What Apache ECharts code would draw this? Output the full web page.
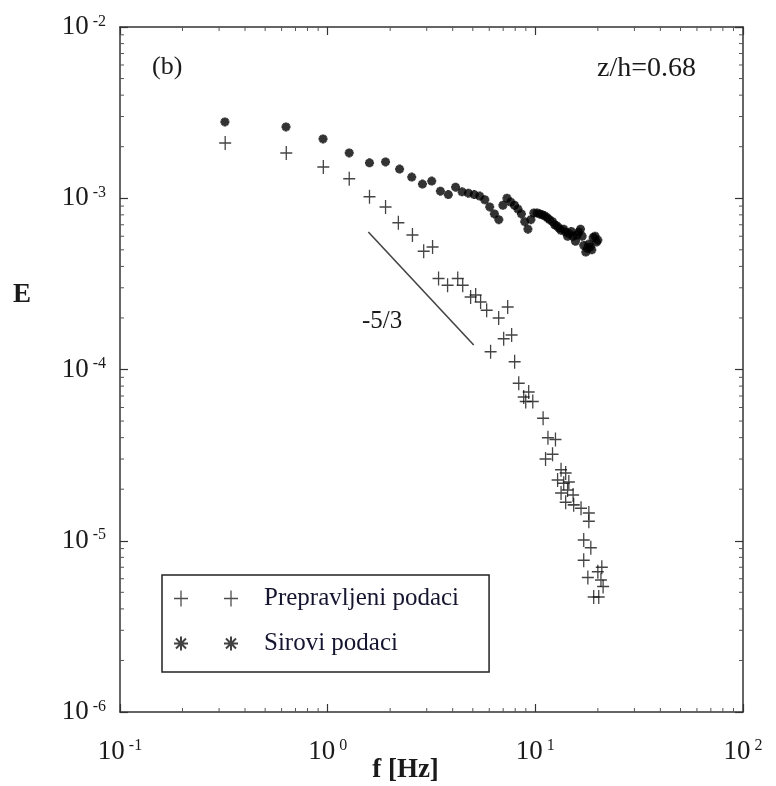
<!DOCTYPE html>
<html>
<head>
<meta charset="utf-8">
<script src="https://cdn.jsdelivr.net/npm/echarts@6/dist/echarts.min.js"></script>
<style>
  html, body { margin: 0; padding: 0; background: #fff; }
  #chart { width: 776px; height: 786px; }
</style>
</head>
<body>
<div id="chart"></div>
<script>
// sirovi podaci (zvjezdice)
const rawFreq = [0.32, 0.63, 0.95, 1.27, 1.59, 1.9, 2.22, 2.54, 2.86, 3.17,
  3.49, 3.81, 4.13, 4.44, 4.76, 5.08, 5.4, 5.71, 6.03, 6.35,
  6.67, 6.98, 7.3, 7.62, 7.94, 8.25, 8.57, 8.89, 9.21, 9.52,
  9.84, 10.2, 10.5, 10.8, 11.1, 11.4, 11.7, 12.1, 12.4, 12.7,
  13.0, 13.3, 13.7, 14.0, 14.3, 14.6, 14.9, 15.2, 15.6, 15.9,
  16.2, 16.5, 16.8, 17.1, 17.5, 17.8, 18.1, 18.4, 18.7, 19.0,
  19.4, 19.7, 20.0]
const rawE = [2.79e-3, 2.61e-3, 2.22e-3, 1.84e-3, 1.61e-3, 1.63e-3, 1.48e-3, 1.33e-3, 1.21e-3, 1.26e-3,
  1.10e-3, 1.05e-3, 1.16e-3, 1.09e-3, 1.07e-3, 1.05e-3, 1.03e-3, 9.8e-4, 8.9e-4, 8.1e-4,
  7.5e-4, 9.1e-4, 1.0e-3, 9.5e-4, 9.1e-4, 8.65e-4, 8.1e-4, 7.3e-4, 6.6e-4, 7.5e-4,
  8.2e-4, 8.2e-4, 8.1e-4, 8.0e-4, 7.9e-4, 7.7e-4, 7.5e-4, 7.3e-4, 7.0e-4, 6.9e-4,
  6.7e-4, 6.5e-4, 6.6e-4, 6.35e-4, 6.0e-4, 6.2e-4, 6.4e-4, 6.0e-4, 5.6e-4, 6.1e-4,
  6.35e-4, 6.6e-4, 6.0e-4, 5.3e-4, 4.85e-4, 5.1e-4, 5.4e-4, 5.2e-4, 5.0e-4, 5.9e-4,
  6.0e-4, 5.55e-4, 5.7e-4]

// prepravljeni podaci (plusevi)
const corrFreq = [0.321, 0.632, 0.953, 1.27, 1.59, 1.9, 2.19, 2.56, 2.9, 3.2,
  3.42, 3.78, 4.23, 4.47, 4.88, 5.16, 5.45, 5.83, 6.09, 6.66,
  7.04, 7.36, 7.69, 7.95, 8.32, 8.79, 8.99, 9.29, 9.72, 10.9,
  11.2, 11.5, 12.1, 12.5, 13.3, 12.8, 13.3, 13.7, 14.0, 14.0,
  14.3, 14.5, 15.2, 15.3, 16.6, 18.1, 18.1, 17.1, 18.5, 17.1,
  17.9, 20.0, 20.9, 20.7, 21.2, 19.1, 20.2]
const corrE = [2.10e-3, 1.84e-3, 1.52e-3, 1.30e-3, 1.02e-3, 8.9e-4, 7.2e-4, 6.1e-4, 4.9e-4, 5.2e-4,
  3.4e-4, 3.1e-4, 3.4e-4, 3.1e-4, 2.65e-4, 2.72e-4, 2.48e-4, 2.22e-4, 1.27e-4, 2.0e-4,
  1.51e-4, 2.32e-4, 1.59e-4, 1.11e-4, 8.3e-5, 6.9e-5, 6.5e-5, 7.4e-5, 6.5e-5, 5.2e-5,
  3.0e-5, 4.0e-5, 3.2e-5, 3.9e-5, 2.6e-5, 2.26e-5, 1.9e-5, 2.17e-5, 2.49e-5, 1.68e-5,
  1.98e-5, 2.2e-5, 1.85e-5, 1.62e-5, 1.55e-5, 1.45e-5, 1.3e-5, 1.01e-5, 9.1e-6, 7.7e-6,
  6.1e-6, 6.6e-6, 7.0e-6, 5.9e-6, 5.4e-6, 4.7e-6, 4.7e-6]

// linija nagiba -5/3
const slopeFreq = [1.57, 5.05]
const slopeE = [6.35e-4, 1.39e-4]

// mali podioci
const mantissas = [2, 3, 4, 5, 6, 7, 8, 9]
const xDecades = [0.1, 1, 10]
const yDecades = [1e-6, 1e-5, 1e-4, 1e-3]

const names = ['Prepravljeni podaci', 'Sirovi podaci']

const serif = '"Liberation Serif", "Times New Roman", serif'
const ink = '#1a1a1a'

const plusPath = 'path://M0,-1L0,1M-1,0L1,0'
const starPath = 'path://M0,-1L0,1M-1,0L1,0M-0.7,-0.7L0.7,0.7M-0.7,0.7L0.7,-0.7'
// legenda: dva simbola u nizu
const plusPair = 'path://M0,0L0,0.001M87,16L87,15.999M9,0L9,16M2,8L16,8M59,0L59,16M52,8L66,8'
const starPair = 'path://M0,0L0,0.001M87,16L87,15.999' +
  'M9,1L9,15M2,8L16,8M4,3L14,13M4,13L14,3' +
  'M59,1L59,15M52,8L66,8M54,3L64,13M54,13L64,3'

const zip = (a, b) => a.map((v, i) => [v, b[i]])

const minorX = []
xDecades.forEach(d => mantissas.forEach(m => minorX.push(m * d)))
const minorY = []
yDecades.forEach(d => mantissas.forEach(m => minorY.push(m * d)))

const powerLabel = v => {
  const e = Math.round(Math.log10(v))
  return '{b|10}{s|' + e + '}'
}
const labelRich = {
  b: { fontFamily: serif, fontSize: 27, color: ink },
  s: { fontFamily: serif, fontSize: 16, color: ink, verticalAlign: 'top', padding: [0, 0, 0, 4] }
}

const baseAxis = {
  type: 'log',
  logBase: 10,
  axisLine: { show: true, lineStyle: { color: '#333', width: 1.5 } },
  axisTick: { show: true, inside: true, length: 8, lineStyle: { color: '#333', width: 1.2 } },
  splitLine: { show: false }
}

const minorTicks = (values, isX) => ({
  type: 'custom',
  silent: true,
  clip: false,
  data: values.map(v => isX ? [v, 1e-4] : [1, v]),
  renderItem: (params, api) => {
    const cs = params.coordSys
    const p = api.coord([api.value(0), api.value(1)])
    const len = 4
    const segs = isX
      ? [[p[0], cs.y + cs.height, p[0], cs.y + cs.height - len], [p[0], cs.y, p[0], cs.y + len]]
      : [[cs.x, p[1], cs.x + len, p[1]], [cs.x + cs.width, p[1], cs.x + cs.width - len, p[1]]]
    return {
      type: 'group',
      children: segs.map(s => ({
        type: 'line',
        shape: { x1: s[0], y1: s[1], x2: s[2], y2: s[3] },
        style: { stroke: '#555', lineWidth: 1 }
      }))
    }
  }
})

const chart = echarts.init(document.getElementById('chart'))

chart.setOption({
  backgroundColor: '#fff',
  animation: false,
  grid: { left: 120, top: 27, right: 33, bottom: 74, outerBoundsMode: 'none', containLabel: false },
  xAxis: [
    {
      ...baseAxis,
      min: 0.1,
      max: 100,
      position: 'bottom',
      axisLabel: { margin: 26, formatter: powerLabel, rich: labelRich },
      name: 'f [Hz]',
      nameLocation: 'middle',
      nameGap: 45,
      nameMoveOverlap: false,
      nameTextStyle: { fontFamily: serif, fontSize: 27, fontWeight: 'bold', color: ink, padding: [0, 52, 0, 0] }
    },
    { ...baseAxis, min: 0.1, max: 100, position: 'top', axisLabel: { show: false } }
  ],
  yAxis: [
    {
      ...baseAxis,
      min: 1e-6,
      max: 1e-2,
      position: 'left',
      axisLabel: { margin: 14, formatter: powerLabel, rich: labelRich }
    },
    { ...baseAxis, min: 1e-6, max: 1e-2, position: 'right', axisLabel: { show: false } }
  ],
  legend: {
    orient: 'vertical',
    left: 162,
    top: 575,
    padding: [11, 30, 16, 9],
    itemGap: 20,
    itemWidth: 87,
    itemHeight: 16,
    borderColor: '#222',
    borderWidth: 1.5,
    backgroundColor: '#fff',
    selectedMode: false,
    textStyle: { fontFamily: serif, fontSize: 25, color: '#151530' },
    data: [
      { name: names[0], icon: plusPair, itemStyle: { color: 'transparent', borderColor: '#222', borderWidth: 1.3 } },
      { name: names[1], icon: starPair, itemStyle: { color: 'transparent', borderColor: '#111', borderWidth: 2 } }
    ]
  },
  graphic: [
    { type: 'text', left: 13, top: 282, style: { text: 'E', font: 'bold 27px ' + serif, fill: ink } },
    { type: 'text', left: 152, top: 54, style: { text: '(b)', font: '26px ' + serif, fill: ink } },
    { type: 'text', left: 597, top: 55, style: { text: 'z/h=0.68', font: '28px ' + serif, fill: ink } },
    { type: 'text', left: 362, top: 309, style: { text: '-5/3', font: '25px ' + serif, fill: ink } }
  ],
  series: [
    minorTicks(minorX, true),
    minorTicks(minorY, false),
    {
      name: names[0],
      type: 'scatter',
      data: zip(corrFreq, corrE),
      symbol: plusPath,
      symbolSize: [12, 14],
      itemStyle: { color: 'transparent', borderColor: '#151515', borderWidth: 1.4 },
      z: 3
    },
    {
      name: names[1],
      type: 'scatter',
      data: zip(rawFreq, rawE),
      symbol: starPath,
      symbolSize: 9,
      itemStyle: { color: 'transparent', borderColor: '#000', borderWidth: 2.8 },
      z: 4
    },
    {
      name: '-5/3',
      type: 'line',
      data: zip(slopeFreq, slopeE),
      symbol: 'none',
      lineStyle: { color: '#444', width: 1.6 },
      silent: true
    }
  ]
})
</script>
</body>
</html>
